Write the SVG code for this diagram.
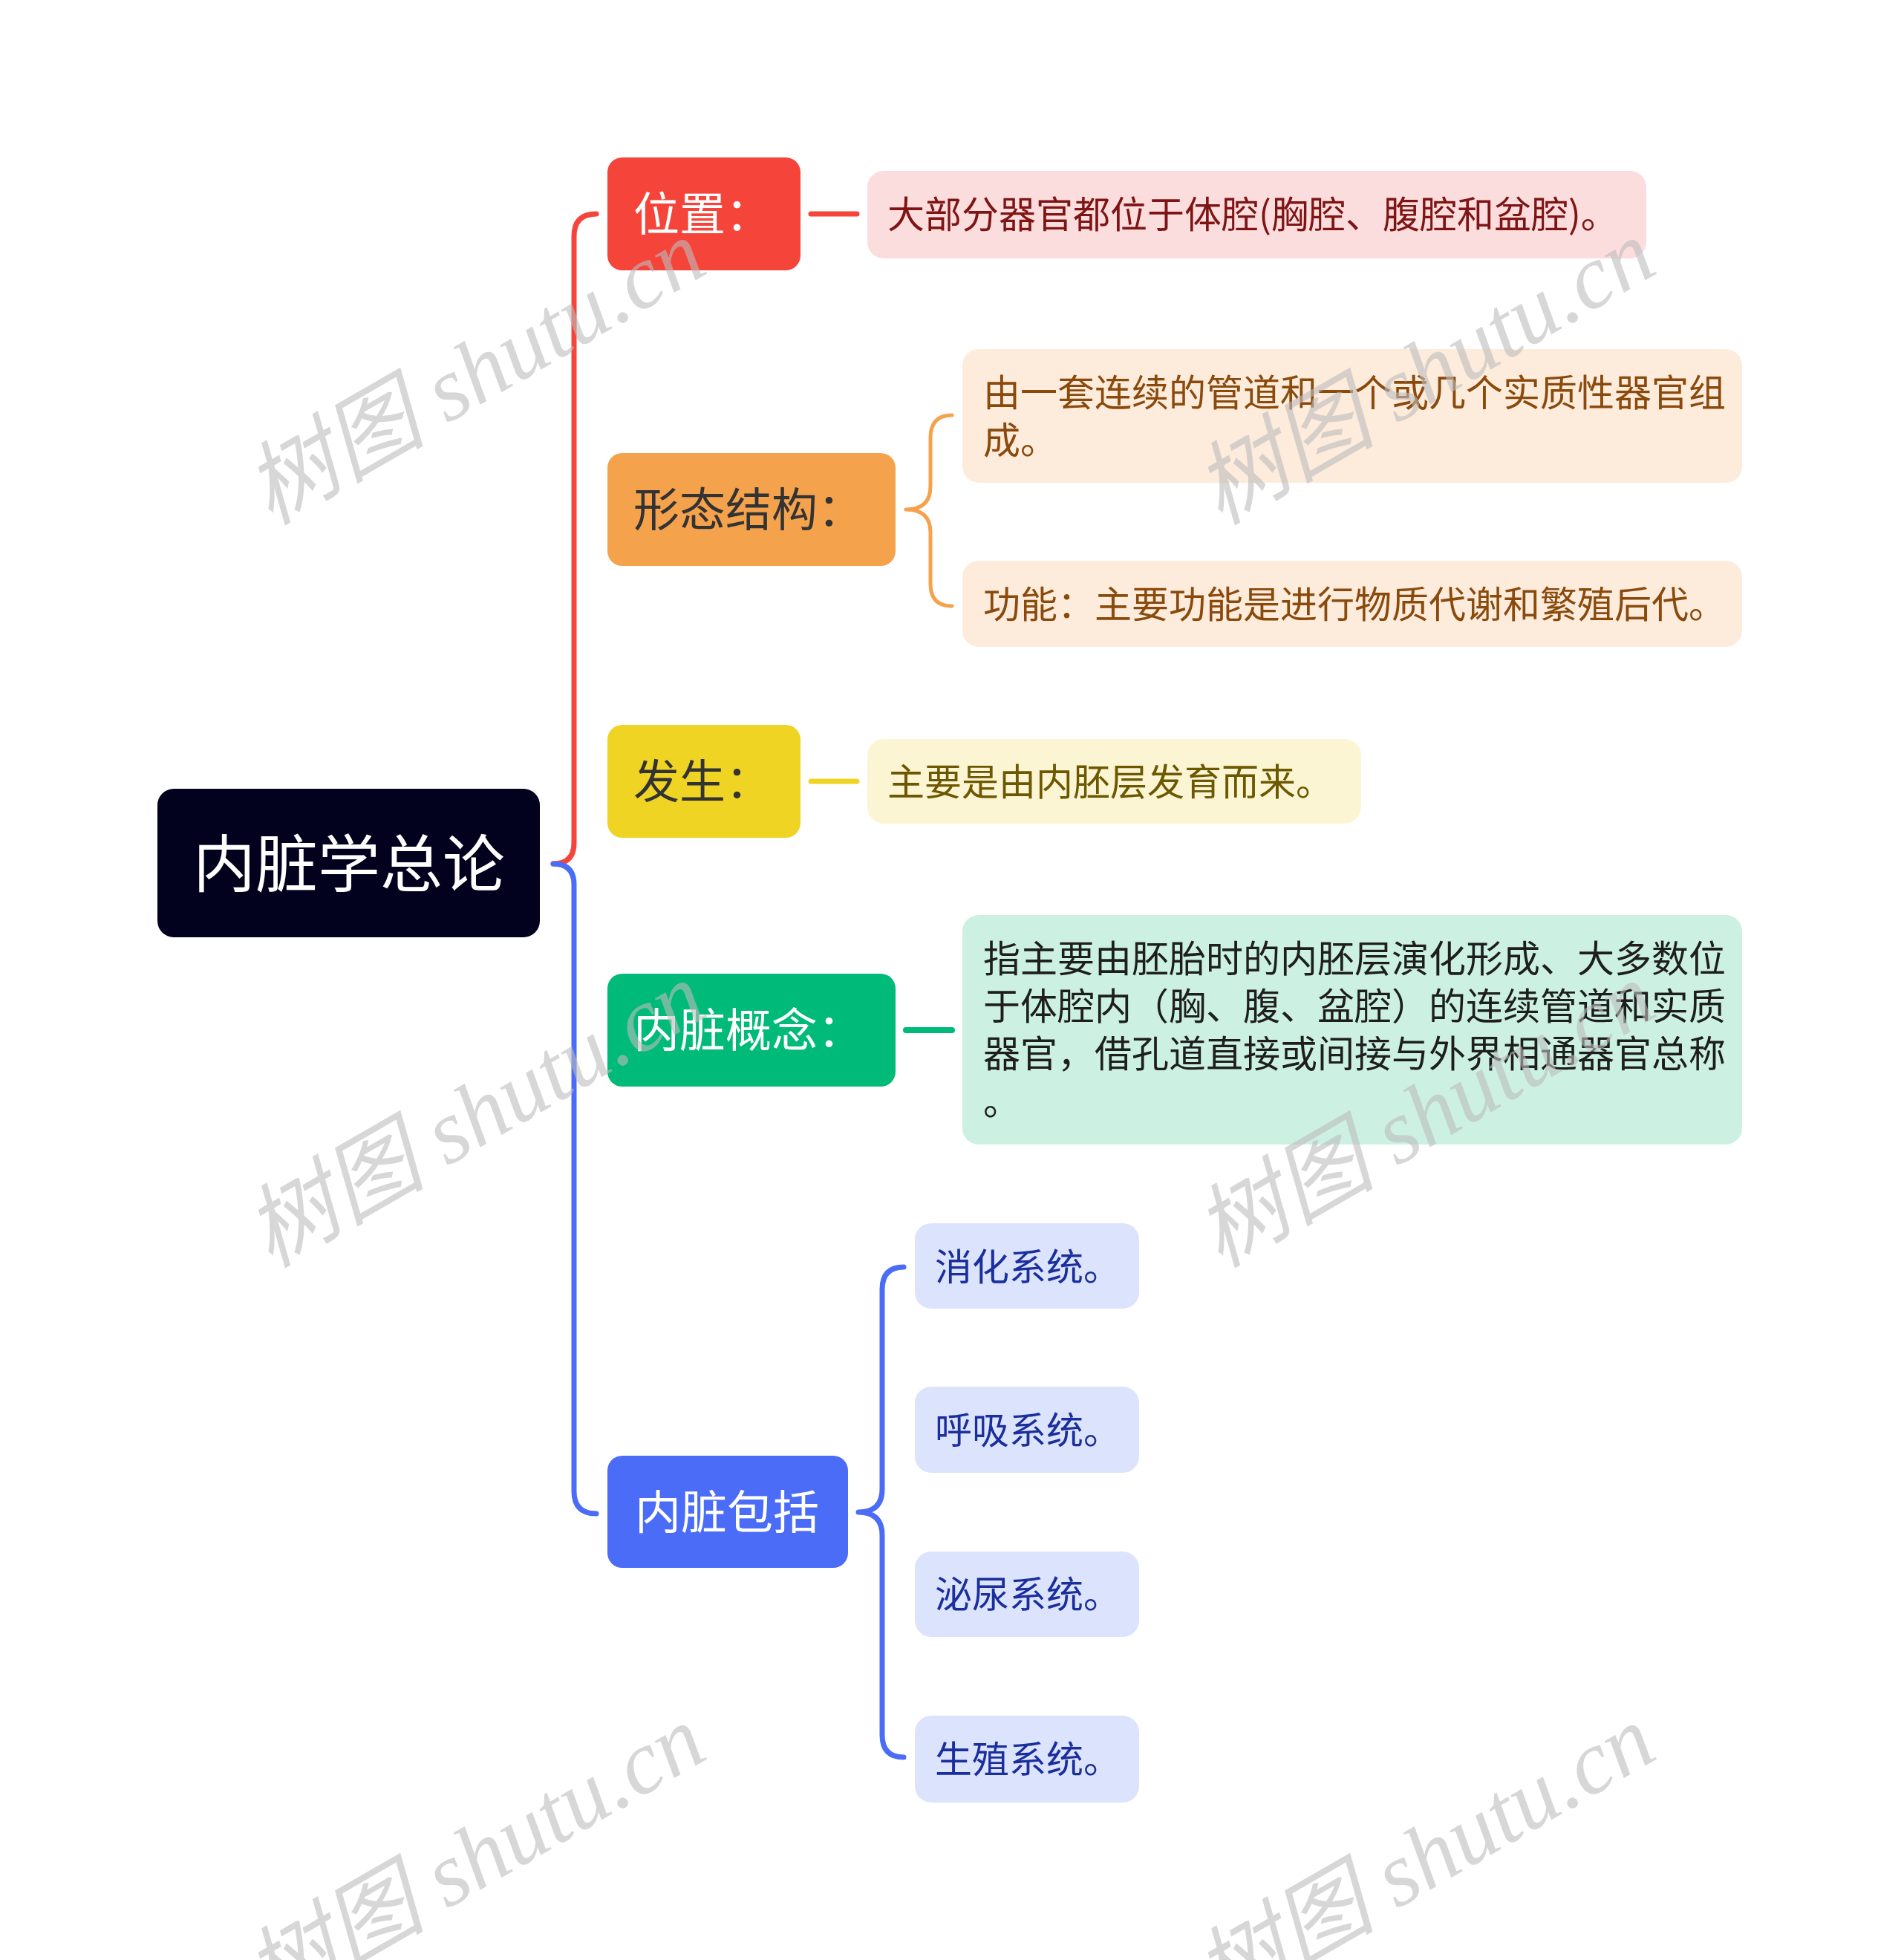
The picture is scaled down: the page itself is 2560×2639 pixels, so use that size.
<svg xmlns="http://www.w3.org/2000/svg" width="2560" height="2639" viewBox="0 0 2560 2639">
<style>
text{font-family:"Noto Sans CJK SC","Noto Sans",sans-serif;}
.main{font-size:62px;}
.child{font-size:50px;}
.conn{fill:none;stroke-linecap:round;stroke-linejoin:round;}
.wm{font-family:"Liberation Serif","Noto Sans CJK SC",serif;font-style:italic;font-size:122px;fill:#bdbdbd;opacity:0.6;}
</style>
<rect width="2560" height="2639" fill="#ffffff"/>
<g id="connectors">
<path class="conn" d="M745 1163 Q773 1163 773 1135 L773 318 Q773 288 803 288" stroke="#F5443A" stroke-width="7"/>
<path class="conn" d="M745 1163 Q773 1163 773 1191 L773 2008 Q773 2038 803 2038" stroke="#4A6CF7" stroke-width="7"/>
<line class="conn" x1="1092" y1="288" x2="1154" y2="288" stroke="#F5443A" stroke-width="7"/>
<path class="conn" d="M1220 686 Q1253 686 1253 655 L1253 590 Q1253 559 1282 559 M1220 686 Q1253 686 1253 717 L1253 786 Q1253 816 1282 816" stroke="#F5A24D" stroke-width="5"/>
<line class="conn" x1="1092" y1="1052" x2="1154" y2="1052" stroke="#F0D424" stroke-width="7"/>
<line class="conn" x1="1220" y1="1387" x2="1282" y2="1387" stroke="#00BA7A" stroke-width="8"/>
<path class="conn" d="M1156 2036 Q1188 2036 1188 2005 L1188 1736 Q1188 1706 1217 1706 M1156 2036 Q1188 2036 1188 2067 L1188 2336 Q1188 2366 1217 2366" stroke="#4A6CF7" stroke-width="7"/>
</g>
<g id="root">
<rect x="212" y="1062" width="515" height="200" rx="22" fill="#02021F"/>
<text x="470" y="1194" font-size="84" fill="#ffffff" text-anchor="middle">内脏学总论</text>
</g>
<g id="n-weizhi">
<rect x="818" y="212" width="260" height="152" rx="20" fill="#F5443A"/>
<text class="main" x="853" y="311" fill="#ffffff">位置：</text>
</g>
<g id="c-weizhi">
<rect x="1168" y="230" width="1049" height="118" rx="22" fill="#FCDDDD"/>
<text class="child" x="1195" y="307" fill="#7E1414">大部分器官都位于体腔(胸腔、腹腔和盆腔)。</text>
</g>
<g id="n-xingtai">
<rect x="818" y="610" width="388" height="152" rx="20" fill="#F5A24D"/>
<text class="main" x="853" y="709" fill="#333333">形态结构：</text>
</g>
<g id="c-xingtai-1">
<rect x="1296" y="470" width="1050" height="180" rx="22" fill="#FDEBDC"/>
<text class="child" fill="#8A4A0C"><tspan x="1324" y="547">由一套连续的管道和一个或几个实质性器官组</tspan><tspan x="1324" y="611">成。</tspan></text>
</g>
<g id="c-xingtai-2">
<rect x="1296" y="755" width="1050" height="116" rx="22" fill="#FDEBDC"/>
<text class="child" x="1324" y="832" fill="#8A4A0C">功能：主要功能是进行物质代谢和繁殖后代。</text>
</g>
<g id="n-fasheng">
<rect x="818" y="976" width="260" height="152" rx="20" fill="#F0D424"/>
<text class="main" x="853" y="1075" fill="#333333">发生：</text>
</g>
<g id="c-fasheng">
<rect x="1168" y="995" width="665" height="114" rx="22" fill="#FCF5D3"/>
<text class="child" x="1195" y="1071" fill="#6B5800">主要是由内胚层发育而来。</text>
</g>
<g id="n-gainian">
<rect x="818" y="1311" width="388" height="152" rx="20" fill="#00BA7A"/>
<text class="main" x="853" y="1410" fill="#ffffff">内脏概念：</text>
</g>
<g id="c-gainian">
<rect x="1296" y="1232" width="1050" height="309" rx="22" fill="#CCF1E3"/>
<text class="child" fill="#1E1E1E"><tspan x="1324" y="1309">指主要由胚胎时的内胚层演化形成、大多数位</tspan><tspan x="1324" y="1373">于体腔内（胸、腹、盆腔）的连续管道和实质</tspan><tspan x="1324" y="1437">器官，借孔道直接或间接与外界相通器官总称</tspan><tspan x="1324" y="1501">。</tspan></text>
</g>
<g id="n-baokuo">
<rect x="818" y="1960" width="324" height="151" rx="20" fill="#4A6CF7"/>
<text class="main" x="855" y="2059" fill="#ffffff">内脏包括</text>
</g>
<g id="c-xiaohua">
<rect x="1232" y="1647" width="302" height="115" rx="22" fill="#DCE3FC"/>
<text class="child" x="1259" y="1724" fill="#1A2E9C">消化系统。</text>
</g>
<g id="c-huxi">
<rect x="1232" y="1867" width="302" height="116" rx="22" fill="#DCE3FC"/>
<text class="child" x="1259" y="1944" fill="#1A2E9C">呼吸系统。</text>
</g>
<g id="c-miniao">
<rect x="1232" y="2089" width="302" height="115" rx="22" fill="#DCE3FC"/>
<text class="child" x="1259" y="2165" fill="#1A2E9C">泌尿系统。</text>
</g>
<g id="c-shengzhi">
<rect x="1232" y="2310" width="302" height="117" rx="22" fill="#DCE3FC"/>
<text class="child" x="1259" y="2387" fill="#1A2E9C">生殖系统。</text>
</g>
<g id="watermarks">
<text class="wm" transform="translate(364 708) rotate(-30)">树图 shutu.cn</text>
<text class="wm" transform="translate(1643 708) rotate(-30)">树图 shutu.cn</text>
<text class="wm" transform="translate(364 1708) rotate(-30)">树图 shutu.cn</text>
<text class="wm" transform="translate(1643 1708) rotate(-30)">树图 shutu.cn</text>
<text class="wm" transform="translate(364 2708) rotate(-30)">树图 shutu.cn</text>
<text class="wm" transform="translate(1643 2708) rotate(-30)">树图 shutu.cn</text>
</g>
</svg>
